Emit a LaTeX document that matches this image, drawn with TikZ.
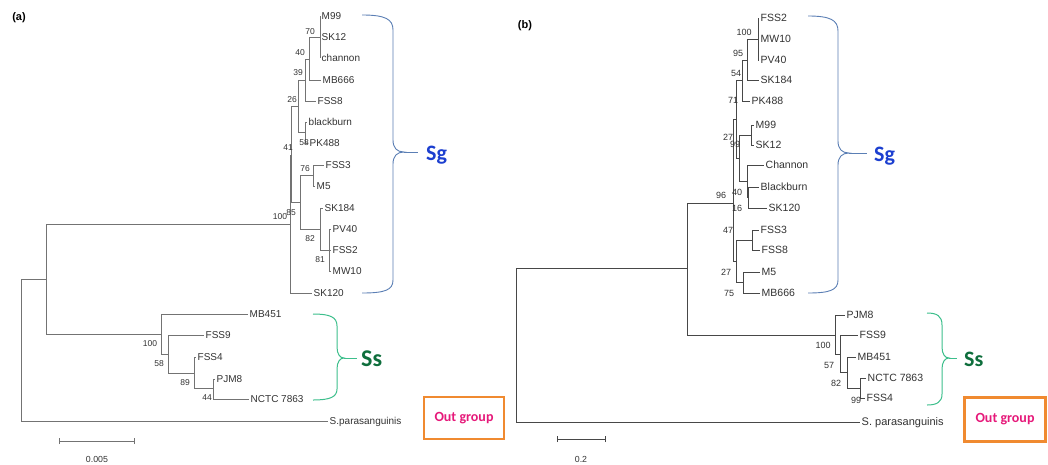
\documentclass[tikz,border=0pt]{standalone}
\usepackage{fontspec}
\setmainfont{Liberation Sans}
\newfontfamily\calib{Carlito}
\definecolor{treetext}{HTML}{333333}
\definecolor{sgtext}{HTML}{1C3FD0}
\definecolor{sgbr}{HTML}{5B7FB5}
\definecolor{sstext}{HTML}{0E6E3C}
\definecolor{ssbr}{HTML}{3DBF8C}
\definecolor{outor}{HTML}{F08A30}
\definecolor{outtx}{HTML}{E6197A}
\begin{document}
\begin{tikzpicture}[x=1pt,y=-1pt,
  leafa/.style={anchor=west,inner sep=1.5pt,text height=7.2pt,text depth=0pt,font=\fontsize{10}{12}\selectfont,text=treetext},
  leafb/.style={anchor=west,inner sep=1.5pt,text height=7.5pt,text depth=0pt,font=\fontsize{10.5}{12}\selectfont,text=treetext},
  bsa/.style={inner sep=0pt,font=\fontsize{8.5}{10}\selectfont,text=treetext},
  bsb/.style={inner sep=0pt,font=\fontsize{9}{10}\selectfont,text=treetext},
  edgea/.style={draw=black!55,line width=0.8pt},
  edgeb/.style={draw=black!72,line width=0.9pt},
  sgbrace/.style={draw=sgbr,line width=0.9pt},
  ssbrace/.style={draw=ssbr,line width=1pt},
  cladelab/.style={anchor=base west,inner sep=0pt,font=\calib\bfseries\fontsize{22}{24}\selectfont},
  outbox/.style={draw=outor,line width=2.5pt,inner sep=0pt},
  outtext/.style={font=\calib\bfseries\fontsize{14}{16}\selectfont,text=outtx},
  panel/.style={inner sep=0pt,font=\bfseries\fontsize{11}{13}\selectfont},
  scaletext/.style={inner sep=0pt,font=\fontsize{8.8}{10}\selectfont,text=treetext}
]
\useasboundingbox (0,0) rectangle (1048,464);
\fill[white] (0,0) rectangle (1048,464);

% ---------------- panel labels
\node[panel] (pa) at (19,18) {(a)};
\node[panel] (pb) at (525,26) {(b)};

% ================= TREE (a)
\coordinate (aR) at (21,350);
\coordinate (aI) at (46,279);
\coordinate (a100) at (290,224);
\coordinate (a41) at (291,155);
\coordinate (a26) at (298,106);
\coordinate (a39) at (305,80);
\coordinate (a40) at (309,59);
\coordinate (a70) at (320,37);
\coordinate (a58) at (305,132);
\coordinate (a85) at (300,202);
\coordinate (a76) at (313,175);
\coordinate (a82) at (320,229);
\coordinate (a81) at (329,250);
\coordinate (aS100) at (161,334);
\coordinate (aS58) at (168,354);
\coordinate (aS89) at (194,373);
\coordinate (aS44) at (213,388);

\node[leafa] (aM99) at (320,16) {M99};
\node[leafa] (aSK12) at (320,37) {SK12};
\node[leafa] (achannon) at (320,58) {channon};
\node[leafa] (aMB666) at (321,80) {MB666};
\node[leafa] (aFSS8) at (316,101) {FSS8};
\node[leafa] (ablackburn) at (307,122) {blackburn};
\node[leafa] (aPK488) at (308,143) {PK488};
\node[leafa] (aFSS3) at (324,165) {FSS3};
\node[leafa] (aM5) at (315,186) {M5};
\node[leafa] (aSK184) at (323,208) {SK184};
\node[leafa] (aPV40) at (331,229) {PV40};
\node[leafa] (aFSS2) at (331,250) {FSS2};
\node[leafa] (aMW10) at (331,271) {MW10};
\node[leafa] (aSK120) at (312,293) {SK120};
\node[leafa] (aMB451) at (248,314) {MB451};
\node[leafa] (aFSS9) at (204,335) {FSS9};
\node[leafa] (aFSS4) at (196,357) {FSS4};
\node[leafa] (aPJM8) at (215,379) {PJM8};
\node[leafa] (aNCTC) at (249,399) {NCTC 7863};
\node[leafa] (aSpar) at (328,421) {S.parasanguinis};

\draw[edgea] (aR) |- (aI);
\draw[edgea] (aR) |- (aSpar.west);
\draw[edgea] (aI) |- (a100);
\draw[edgea] (aI) |- (aS100);
\draw[edgea] (a100) |- (a41);
\draw[edgea] (a100) |- (aSK120.west);
\draw[edgea] (a41) |- (a26);
\draw[edgea] (a41) |- (a85);
\draw[edgea] (a26) |- (a39);
\draw[edgea] (a26) |- (a58);
\draw[edgea] (a39) |- (a40);
\draw[edgea] (a39) |- (aFSS8.west);
\draw[edgea] (a40) |- (a70);
\draw[edgea] (a40) |- (aMB666.west);
\draw[edgea] (a70) |- (aM99.west);
\draw[edgea] (a70) |- (aSK12.west);
\draw[edgea] (a70) |- (achannon.west);
\draw[edgea] (a58) |- (ablackburn.west);
\draw[edgea] (a58) |- (aPK488.west);
\draw[edgea] (a85) |- (a76);
\draw[edgea] (a85) |- (a82);
\draw[edgea] (a76) |- (aFSS3.west);
\draw[edgea] (a76) |- (aM5.west);
\draw[edgea] (a82) |- (aSK184.west);
\draw[edgea] (a82) |- (a81);
\draw[edgea] (a81) |- (aPV40.west);
\draw[edgea] (a81) |- (aFSS2.west);
\draw[edgea] (a81) |- (aMW10.west);
\draw[edgea] (aS100) |- (aMB451.west);
\draw[edgea] (aS100) |- (aS58);
\draw[edgea] (aS58) |- (aFSS9.west);
\draw[edgea] (aS58) |- (aS89);
\draw[edgea] (aS89) |- (aFSS4.west);
\draw[edgea] (aS89) |- (aS44);
\draw[edgea] (aS44) |- (aPJM8.west);
\draw[edgea] (aS44) |- (aNCTC.west);

% bootstrap (a)
\node[bsa] (ab70) at (310,32) {70};
\node[bsa] (ab40) at (300,53) {40};
\node[bsa] (ab39) at (298,73) {39};
\node[bsa] (ab26) at (292,100) {26};
\node[bsa] (ab58) at (304,143) {58};
\node[bsa] (ab41) at (288,148) {41};
\node[bsa] (ab76) at (305,169) {76};
\node[bsa] (ab100) at (280,217) {100};
\node[bsa] (ab85) at (291,213) {85};
\node[bsa] (ab82) at (310,239) {82};
\node[bsa] (ab81) at (320,260) {81};
\node[bsa] (abS100) at (150,344) {100};
\node[bsa] (abS58) at (159,364) {58};
\node[bsa] (abS89) at (185,383) {89};
\node[bsa] (abS44) at (207,398) {44};

% scale bar (a)
\coordinate (asb1) at (59,441);
\coordinate (asb2) at (134,441);
\draw[edgea,line width=0.7pt] (asb1) -- (asb2);
\draw[edgea,line width=0.7pt] ([yshift=-3]asb1) -- ([yshift=3]asb1);
\draw[edgea,line width=0.7pt] ([yshift=-3]asb2) -- ([yshift=3]asb2);
\node[scaletext] (asbt) at (97,459) {0.005};

% braces (a)
\coordinate (aSgtip) at (404,152);
\draw[sgbrace] (362,15) .. controls (385,15) and (393,19) .. (393,30) -- (393,140)
  .. controls (393,148) and (397,152) .. (aSgtip)
  .. controls (397,152) and (393,156) .. (393,164) -- (393,280)
  .. controls (393,290) and (385,293) .. (362,293);
\node[cladelab,text=sgtext] (aSg) at (426,160) {Sg};
\draw[sgbrace] (aSgtip) -- (418,152);

\coordinate (aSstip) at (344,358);
\draw[ssbrace] (313,314) .. controls (330,314) and (337,317) .. (337,326) -- (337,347)
  .. controls (337,354) and (340,358) .. (aSstip)
  .. controls (340,358) and (337,362) .. (337,369) -- (337,389)
  .. controls (337,397) and (330,400) .. (313,400);
\draw[ssbrace] (aSstip) -- (357,358);
\node[cladelab,text=sstext,font=\calib\bfseries\fontsize{24}{26}\selectfont] (aSs) at (361,366) {Ss};

% out group (a)
\node[outbox,minimum width=80pt,minimum height=42pt] (aOut) at (464,418) {};
\node[outtext] (aOutT) at (aOut.center) {Out group};

% ================= TREE (b)
\coordinate (bR) at (516,345);
\coordinate (bI) at (687,268);
\coordinate (b96) at (733,203);
\coordinate (b71) at (736,119);
\coordinate (b54) at (742,80);
\coordinate (b95) at (747,60);
\coordinate (b100) at (758,39);
\coordinate (bX) at (739,158);
\coordinate (b99) at (751,135);
\coordinate (b40) at (747,181);
\coordinate (b16) at (748,197);
\coordinate (bC) at (736,261);
\coordinate (b47) at (752,240);
\coordinate (b75) at (743,282);
\coordinate (bS100) at (835,335);
\coordinate (bSY) at (840,354);
\coordinate (bS82) at (847,372);
\coordinate (bS99) at (860,388);

\node[leafb] (bFSS2) at (759,18) {FSS2};
\node[leafb] (bMW10) at (759,39) {MW10};
\node[leafb] (bPV40) at (759,60) {PV40};
\node[leafb] (bSK184) at (759,80) {SK184};
\node[leafb] (bPK488) at (750,101) {PK488};
\node[leafb] (bM99) at (754,125) {M99};
\node[leafb] (bSK12) at (754,145) {SK12};
\node[leafb] (bChannon) at (764,165) {Channon};
\node[leafb] (bBlackburn) at (759,187) {Blackburn};
\node[leafb] (bSK120) at (767,208) {SK120};
\node[leafb] (bFSS3) at (759,230) {FSS3};
\node[leafb] (bFSS8) at (760,250) {FSS8};
\node[leafb] (bM5) at (760,272) {M5};
\node[leafb] (bMB666) at (760,293) {MB666};
\node[leafb] (bPJM8) at (845,315) {PJM8};
\node[leafb] (bFSS9) at (858,335) {FSS9};
\node[leafb] (bMB451) at (856,357) {MB451};
\node[leafb] (bNCTC) at (866,378) {NCTC 7863};
\node[leafb] (bFSS4) at (865,398) {FSS4};
\node[leafb,font=\fontsize{11}{12}\selectfont] (bSpar) at (860,422) {S. parasanguinis};

\draw[edgeb] (bR) |- (bI);
\draw[edgeb] (bR) |- (bSpar.west);
\draw[edgeb] (bI) |- (b96);
\draw[edgeb] (bI) |- (bS100);
\draw[edgeb] (b96) |- (b71);
\draw[edgeb] (b96) |- (bC);
\draw[edgeb] (b71) |- (b54);
\draw[edgeb] (b71) |- (bX);
\draw[edgeb] (b54) |- (b95);
\draw[edgeb] (b54) |- (bPK488.west);
\draw[edgeb] (b95) |- (b100);
\draw[edgeb] (b95) |- (bSK184.west);
\draw[edgeb] (b100) |- (bFSS2.west);
\draw[edgeb] (b100) |- (bMW10.west);
\draw[edgeb] (b100) |- (bPV40.west);
\draw[edgeb] (bX) |- (b99);
\draw[edgeb] (bX) |- (b40);
\draw[edgeb] (b99) |- (bM99.west);
\draw[edgeb] (b99) |- (bSK12.west);
\draw[edgeb] (b40) |- (bChannon.west);
\draw[edgeb] (b40) |- (b16);
\draw[edgeb] (b16) |- (bBlackburn.west);
\draw[edgeb] (b16) |- (bSK120.west);
\draw[edgeb] (bC) |- (b47);
\draw[edgeb] (bC) |- (b75);
\draw[edgeb] (b47) |- (bFSS3.west);
\draw[edgeb] (b47) |- (bFSS8.west);
\draw[edgeb] (b75) |- (bM5.west);
\draw[edgeb] (b75) |- (bMB666.west);
\draw[edgeb] (bS100) |- (bPJM8.west);
\draw[edgeb] (bS100) |- (bSY);
\draw[edgeb] (bSY) |- (bFSS9.west);
\draw[edgeb] (bSY) |- (bS82);
\draw[edgeb] (bS82) |- (bMB451.west);
\draw[edgeb] (bS82) |- (bS99);
\draw[edgeb] (bS99) |- (bNCTC.west);
\draw[edgeb] (bS99) |- (bFSS4.west);

% bootstrap (b)
\node[bsb] (bb100) at (744,32) {100};
\node[bsb] (bb95) at (738,53) {95};
\node[bsb] (bb54) at (736,73) {54};
\node[bsb] (bb71) at (733,100) {71};
\node[bsb] (bb27a) at (728,137) {27};
\node[bsb] (bb99) at (735,144) {99};
\node[bsb] (bb40) at (737,192) {40};
\node[bsb] (bb96) at (721,195) {96};
\node[bsb] (bb16) at (737,208) {16};
\node[bsb] (bb47) at (728,230) {47};
\node[bsb] (bb27b) at (726,272) {27};
\node[bsb] (bb75) at (729,293) {75};
\node[bsb] (bbS100) at (823,345) {100};
\node[bsb] (bbS57) at (829,365) {57};
\node[bsb] (bbS82) at (836,383) {82};
\node[bsb] (bbS99) at (856,400) {99};

% scale bar (b)
\coordinate (bsb1) at (557,439);
\coordinate (bsb2) at (605,439);
\draw[edgeb,line width=0.7pt] (bsb1) -- (bsb2);
\draw[edgeb,line width=0.7pt] ([yshift=-3]bsb1) -- ([yshift=3]bsb1);
\draw[edgeb,line width=0.7pt] ([yshift=-3]bsb2) -- ([yshift=3]bsb2);
\node[scaletext] (bsbt) at (581,459) {0.2};

% braces (b)
\coordinate (bSgtip) at (849,153);
\draw[sgbrace] (808,16) .. controls (830,16) and (838,20) .. (838,31) -- (838,141)
  .. controls (838,149) and (842,153) .. (bSgtip)
  .. controls (842,153) and (838,157) .. (838,165) -- (838,280)
  .. controls (838,290) and (830,293) .. (808,293);
\draw[sgbrace] (bSgtip) -- (867,153);
\node[cladelab,text=sgtext] (bSg) at (874,161) {Sg};

\coordinate (bSstip) at (949,358);
\draw[ssbrace] (927,313) .. controls (937,313) and (942,316) .. (942,325) -- (942,347)
  .. controls (942,354) and (945,358) .. (bSstip)
  .. controls (945,358) and (942,362) .. (942,369) -- (942,394)
  .. controls (942,402) and (937,405) .. (927,405);
\draw[ssbrace] (bSstip) -- (957,358);
\node[cladelab,text=sstext] (bSs) at (964,366) {Ss};

% out group (b)
\node[outbox,minimum width=81pt,minimum height=44pt] (bOut) at (1005,419.5) {};
\node[outtext] (bOutT) at (bOut.center) {Out group};
\end{tikzpicture}
\end{document}
